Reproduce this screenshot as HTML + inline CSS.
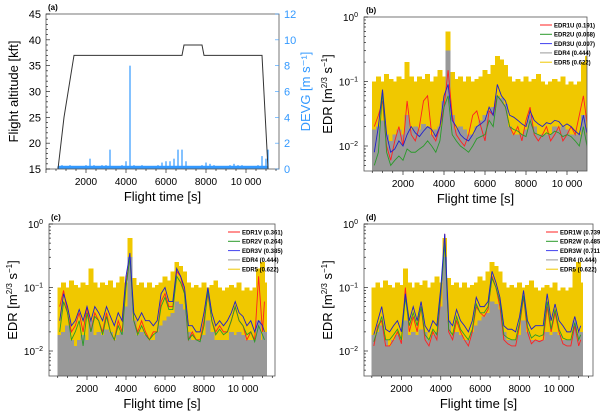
<!DOCTYPE html>
<html><head><meta charset="utf-8">
<style>
body{margin:0;background:#fff;}
svg{display:block;font-family:"Liberation Sans",sans-serif;}
</style></head>
<body>
<svg id="chart" width="600" height="417" viewBox="0 0 600 417"></svg>
<script>
const times=[600,800,1000,1200,1400,1600,1800,2000,2200,2400,2600,2800,3000,3200,3400,3600,3800,4000,4200,4400,4600,4800,5000,5200,5400,5600,5800,6000,6200,6400,6600,6800,7000,7200,7400,7600,7800,8000,8200,8400,8600,8800,9000,9200,9400,9600,9800,10000,10200,10400,10600,10800,11000,11100];
const altTimes=[600,900,1400,6800,6900,7800,7900,10800,11100];
const altValues=[15,25,37,37,39,39,37,37,15];
const devg=[0.2,0.3,0.2,0.3,0.2,0.2,0.2,0.3,0.8,0.3,0.2,0.3,0.3,1.5,0.2,0.2,0.3,0.6,8,0.3,0.2,0.3,0.2,0.2,0.2,0.3,0.5,0.6,0.6,0.8,1.5,1.5,0.6,0.2,0.2,0.2,0.3,0.5,0.4,0.3,0.2,0.2,0.2,0.3,0.4,0.3,0.3,0.2,0.2,0.2,0.3,1.0,0.8,1.5];
const edr5=[0.1,0.12,0.1,0.13,0.11,0.1,0.12,0.11,0.2,0.12,0.1,0.12,0.11,0.13,0.1,0.12,0.15,0.12,0.6,0.14,0.11,0.12,0.1,0.12,0.1,0.11,0.12,0.15,0.13,0.18,0.25,0.22,0.18,0.12,0.1,0.11,0.1,0.12,0.1,0.11,0.13,0.1,0.09,0.1,0.11,0.1,0.12,0.09,0.1,0.09,0.1,0.2,0.25,0.12];
const edr4=[0.018,0.02,0.025,0.015,0.012,0.015,0.018,0.015,0.03,0.018,0.02,0.018,0.022,0.02,0.015,0.018,0.02,0.05,0.3,0.03,0.018,0.02,0.018,0.015,0.015,0.02,0.025,0.03,0.035,0.04,0.06,0.055,0.045,0.02,0.015,0.015,0.015,0.018,0.03,0.02,0.015,0.015,0.015,0.015,0.02,0.018,0.02,0.018,0.015,0.015,0.015,0.03,0.015,0.02];
const edr1u=[0.02,0.03,0.05,0.01,0.006,0.012,0.02,0.01,0.05,0.015,0.012,0.02,0.05,0.06,0.015,0.012,0.02,0.04,0.15,0.03,0.015,0.012,0.01,0.015,0.03,0.035,0.02,0.012,0.035,0.03,0.06,0.05,0.04,0.02,0.015,0.02,0.012,0.025,0.04,0.015,0.012,0.015,0.02,0.012,0.015,0.02,0.012,0.015,0.02,0.015,0.03,0.06,0.02,0.025];
const edr2u=[0.005,0.008,0.07,0.008,0.005,0.006,0.007,0.006,0.009,0.008,0.008,0.009,0.01,0.012,0.01,0.008,0.012,0.04,0.06,0.015,0.012,0.01,0.009,0.008,0.01,0.013,0.014,0.015,0.025,0.02,0.06,0.05,0.04,0.02,0.018,0.017,0.015,0.014,0.025,0.016,0.015,0.014,0.016,0.015,0.017,0.016,0.014,0.015,0.014,0.012,0.01,0.02,0.009,0.01];
const edr3u=[0.008,0.02,0.075,0.015,0.008,0.009,0.012,0.01,0.015,0.02,0.016,0.014,0.017,0.02,0.018,0.014,0.02,0.06,0.09,0.025,0.02,0.015,0.013,0.012,0.015,0.02,0.022,0.025,0.04,0.03,0.09,0.06,0.05,0.03,0.028,0.025,0.022,0.02,0.035,0.025,0.022,0.02,0.023,0.022,0.025,0.024,0.02,0.022,0.02,0.017,0.015,0.03,0.014,0.015];
const edr1v=[0.05,0.09,0.04,0.02,0.025,0.04,0.02,0.05,0.02,0.04,0.03,0.02,0.04,0.02,0.015,0.03,0.02,0.12,0.3,0.03,0.02,0.03,0.02,0.015,0.02,0.02,0.06,0.08,0.05,0.05,0.18,0.15,0.08,0.015,0.02,0.015,0.015,0.03,0.08,0.03,0.02,0.025,0.02,0.02,0.03,0.05,0.03,0.025,0.015,0.02,0.015,0.15,0.02,0.06];
const edr2v=[0.02,0.06,0.04,0.015,0.02,0.03,0.012,0.04,0.02,0.035,0.03,0.018,0.035,0.02,0.015,0.025,0.018,0.1,0.3,0.03,0.018,0.025,0.018,0.015,0.018,0.02,0.05,0.07,0.045,0.045,0.15,0.12,0.08,0.015,0.018,0.015,0.014,0.025,0.09,0.03,0.018,0.022,0.018,0.02,0.03,0.05,0.03,0.025,0.018,0.02,0.014,0.025,0.018,0.015];
const edr3v=[0.03,0.08,0.05,0.025,0.03,0.045,0.03,0.05,0.03,0.05,0.04,0.03,0.05,0.035,0.025,0.04,0.03,0.15,0.35,0.04,0.03,0.04,0.03,0.03,0.025,0.03,0.08,0.1,0.06,0.06,0.2,0.15,0.1,0.025,0.025,0.02,0.02,0.04,0.1,0.04,0.025,0.03,0.025,0.03,0.04,0.06,0.04,0.035,0.025,0.03,0.02,0.03,0.025,0.02];
const edr1w=[0.012,0.025,0.03,0.012,0.012,0.015,0.02,0.013,0.1,0.02,0.035,0.02,0.05,0.015,0.012,0.02,0.015,0.07,0.7,0.02,0.015,0.03,0.02,0.015,0.012,0.02,0.05,0.04,0.035,0.045,0.15,0.1,0.05,0.015,0.013,0.012,0.012,0.025,0.07,0.02,0.013,0.015,0.014,0.015,0.05,0.02,0.04,0.02,0.013,0.012,0.012,0.025,0.012,0.015];
const edr2w=[0.014,0.022,0.035,0.015,0.015,0.018,0.022,0.015,0.07,0.025,0.04,0.025,0.05,0.018,0.015,0.022,0.018,0.08,0.5,0.022,0.018,0.035,0.022,0.018,0.015,0.022,0.055,0.04,0.04,0.05,0.14,0.1,0.06,0.018,0.016,0.015,0.015,0.028,0.075,0.024,0.016,0.018,0.017,0.018,0.06,0.022,0.045,0.022,0.016,0.015,0.015,0.028,0.015,0.018];
const edr3w=[0.018,0.03,0.05,0.022,0.02,0.025,0.03,0.02,0.08,0.03,0.05,0.03,0.06,0.025,0.02,0.03,0.025,0.1,0.7,0.03,0.025,0.045,0.03,0.025,0.02,0.03,0.07,0.05,0.05,0.06,0.18,0.12,0.07,0.025,0.022,0.022,0.02,0.035,0.09,0.03,0.022,0.025,0.025,0.025,0.08,0.03,0.055,0.03,0.025,0.02,0.02,0.035,0.02,0.025];
const xTicks=[2000,4000,6000,8000,10000];
const xTickLabels=["2000","4000","6000","8000","10 000"];
const altTicks=[15,20,25,30,35,40,45];
const devgTicks=[0,2,4,6,8,10,12];
const legendB=["EDR1U (0.191)","EDR2U (0.068)","EDR3U (0.097)","EDR4 (0.444)","EDR5 (0.622)"];
const legendC=["EDR1V (0.361)","EDR2V (0.264)","EDR3V (0.385)","EDR4 (0.444)","EDR5 (0.622)"];
const legendD=["EDR1W (0.739)","EDR2W (0.485)","EDR3W (0.711)","EDR4 (0.444)","EDR5 (0.622)"];

const svg=document.getElementById('chart');
const NS='http://www.w3.org/2000/svg';
function mk(tag,attrs,parent){const e=document.createElementNS(NS,tag);for(const k in attrs)e.setAttribute(k,attrs[k]);(parent||svg).appendChild(e);return e;}
function txt(s,attrs,parent){const e=mk('text',attrs,parent);e.textContent=s;return e;}

function xAxis(g,P){
  const y=P.bottom;
  for(let t=0;t<=11500;t+=500){const x=P.x0+t*P.k;if(x<P.left||x>P.right)continue;
    const tk=mk('line',{x1:x,y1:y,x2:x,y2:y+(t%2000===0?4:2),stroke:'#000','stroke-width':0.6},g);
    }
  xTicks.forEach((t,i)=>{const l=txt(xTickLabels[i],{x:P.x0+t*P.k,y:y+16,'font-size':10,'text-anchor':'middle'},g);
    });
  const xt=txt('Flight time [s]',{x:(P.left+P.right)/2,y:y+32,'font-size':13,'text-anchor':'middle'},g);
  
}
function frame(g,P,label){
  const f=mk('rect',{x:P.left,y:P.top,width:P.right-P.left,height:P.bottom-P.top,fill:'none',stroke:'#555','stroke-width':0.8},g);
  
  const pl=txt(label,{x:P.left+2,y:P.top-4,'font-size':8,'font-weight':'bold'},g);
  
}

// Panel a
(function(){
  const P={left:46,right:279,top:14,bottom:169,x0:46,k:0.02};
  const g=mk('g',{});
  const yA=v=>P.bottom-(v-15)/30*(P.bottom-P.top);
  const yD=v=>P.bottom-v/12*(P.bottom-P.top);
  const X=t=>P.x0+t*P.k;
  devg.forEach((v,i)=>{const b=mk('line',{x1:X(times[i]),x2:X(times[i]),y1:P.bottom,y2:yD(v),stroke:'#3399ff','stroke-width':1.2},g);
    });
  const base=mk('rect',{x:X(times[0]),y:yD(0.25),width:X(times[times.length-1])-X(times[0]),height:P.bottom-yD(0.25),fill:'#3399ff'},g);
  
  const alt=mk('polyline',{points:altTimes.map((t,i)=>X(t)+','+yA(altValues[i])).join(' '),fill:'none',stroke:'#333','stroke-width':1},g);
  
  frame(g,P,'(a)');
  for(let v=15;v<=45;v+=1){const y=yA(v);const tk=mk('line',{x1:P.left,x2:P.left+(v%5===0?4:2),y1:y,y2:y,stroke:'#000','stroke-width':0.6},g);
    }
  altTicks.forEach(v=>{const l=txt(String(v),{x:P.left-5,y:yA(v)+4,'font-size':11,'text-anchor':'end'},g);
    });
  devgTicks.forEach(v=>{const l=txt(String(v),{x:P.right+5,y:yD(v)+4,'font-size':11,fill:'#3399ff'},g);
    
    const tk=mk('line',{x1:P.right,x2:P.right-4,y1:yD(v),y2:yD(v),stroke:'#3399ff','stroke-width':0.6},g);
    });
  const yt=txt('Flight altitude [kft]',{x:0,y:0,'font-size':13,'text-anchor':'middle',transform:'translate(18,'+(P.top+P.bottom)/2+') rotate(-90)'},g);
  
  const yt2=txt('DEVG [m s\u207B\u00B9]',{x:0,y:0,'font-size':13,'text-anchor':'middle',fill:'#3399ff',transform:'translate(310,'+(P.top+P.bottom)/2+') rotate(-90)'},g);
  
  xAxis(g,P);
})();

function edrPanel(name,label,P,s1,s2,s3,leg){
  const g=mk('g',{});
  const X=t=>P.x0+t*P.k;
  const Y=v=>{const y=P.top+(-Math.log10(v))*P.dec;return Math.min(y,P.bottom);};
  const clip=mk('clipPath',{id:'c'+name},g);mk('rect',{x:P.left,y:P.top,width:P.right-P.left,height:P.bottom-P.top},clip);
  const inner=mk('g',{'clip-path':'url(#c'+name+')','shape-rendering':'crispEdges'},g);
  const w=200*P.k+1;
  edr5.forEach((v,i)=>{const b=mk('rect',{x:X(times[i])-w/2,y:Y(v),width:w,height:P.bottom-Y(v),fill:'#f0c800'},inner);
    });
  edr4.forEach((v,i)=>{const b=mk('rect',{x:X(times[i])-w/2,y:Y(v),width:w,height:P.bottom-Y(v),fill:'#999'},inner);
    });
  const lines=mk('g',{'clip-path':'url(#c'+name+')'},g);
  [[s1,'#ff2020','edr1-line'],[s2,'#2a9a2a','edr2-line'],[s3,'#2020cc','edr3-line']].forEach(([s,c,n])=>{
    const l=mk('polyline',{points:s.map((v,i)=>X(times[i])+','+Y(v)).join(' '),fill:'none',stroke:c,'stroke-width':0.9},lines);
    });
  frame(g,P,label);
  for(let d=-3;d<=0;d++){for(let m=1;m<=9;m++){const v=m*Math.pow(10,d);if(v>1)continue;const y=P.top-Math.log10(v)*P.dec;if(y>P.bottom)continue;
    const tk=mk('line',{x1:P.left,x2:P.left+(m===1?4:2),y1:y,y2:y,stroke:'#000','stroke-width':0.6},g);
    }}
  [0,-1,-2].forEach(e=>{const y=P.top-e*P.dec;const t=mk('text',{x:P.left-6,y:y+4,'font-size':10,'text-anchor':'end'},g);
    t.textContent='10';const sp=mk('tspan',{dy:-4,'font-size':7},t);sp.textContent=String(e).replace('-','\u2212');
    });
  const yt=mk('text',{'font-size':13,'text-anchor':'middle',transform:'translate('+(P.left-32)+','+(P.top+P.bottom)/2+') rotate(-90)'},g);
  yt.textContent='EDR [m';const a=mk('tspan',{dy:-5,'font-size':8},yt);a.textContent='2/3';const b=mk('tspan',{dy:5},yt);b.textContent=' s';
  const c=mk('tspan',{dy:-5,'font-size':8},yt);c.textContent='\u22121';const d=mk('tspan',{dy:5},yt);d.textContent=']';
  
  const cols=['#ff2020','#2a9a2a','#4040ee','#999','#f0c800'];
  leg.forEach((s,i)=>{const ly=P.top+8+i*9.3;const lx=P.right-47;
    const ll=mk('line',{x1:lx,x2:lx+12,y1:ly,y2:ly,stroke:cols[i],'stroke-width':1},g);
    
    const lt=txt(s,{x:lx+14,y:ly+2.3,'font-size':6,'font-weight':'bold'},g);
    });
  xAxis(g,P);
}
edrPanel('panel-b','(b)',{left:364,right:587,top:17,bottom:171,x0:362,k:0.0205,dec:64.5},edr1u,edr2u,edr3u,legendB);
edrPanel('panel-c','(c)',{left:49,right:275,top:224,bottom:376,x0:48,k:0.0195,dec:63.5},edr1v,edr2v,edr3v,legendC);
edrPanel('panel-d','(d)',{left:364,right:593,top:224,bottom:376,x0:362,k:0.0197,dec:63.5},edr1w,edr2w,edr3w,legendD);
</script>
</body></html>
